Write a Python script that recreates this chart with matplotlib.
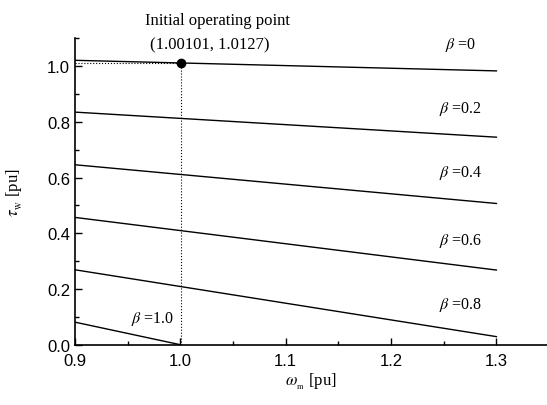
import matplotlib
matplotlib.use('Agg')
import matplotlib.pyplot as plt
from matplotlib.ticker import MultipleLocator

# Torque-speed lines for each pitch angle beta (endpoints at 0.9 and 1.3 pu)
betas = ['0', '0.2', '0.4', '0.6', '0.8', '1.0']
omega_start = [0.9, 0.9, 0.9, 0.9, 0.9, 0.9]
omega_end = [1.3, 1.3, 1.3, 1.3, 1.3, 1.0]
tau_start = [1.021, 0.835, 0.646, 0.457, 0.269, 0.081]
tau_end = [0.983, 0.745, 0.507, 0.268, 0.029, 0.0]

# label positions for beta annotations
label_x = [1.266, 1.266, 1.266, 1.266, 1.266, 0.974]
label_y = [1.078, 0.848, 0.621, 0.376, 0.146, 0.095]

op_omega, op_tau = 1.00101, 1.0127

plt.rcParams['mathtext.fontset'] = 'stix'
serif = ['Liberation Serif', 'DejaVu Serif']

fig = plt.figure(figsize=(5.47, 4.06), dpi=100)
ax = fig.add_axes([0.137, 0.1485, 0.863, 0.7547])

for x0, x1, y0, y1 in zip(omega_start, omega_end, tau_start, tau_end):
    ax.plot([x0, x1], [y0, y1], color='black', linewidth=1.0)

for b, lx, ly in zip(betas, label_x, label_y):
    ax.text(lx, ly, r'$\beta$ =' + b, fontsize=11.5, family=serif,
            ha='center', va='center')

# operating point with guide lines
ax.plot([op_omega, op_omega], [0, op_tau], color='black', linestyle=':', linewidth=0.8)
ax.plot([0.9, op_omega], [op_tau, op_tau], color='black', linestyle=':', linewidth=0.8)
ax.plot(op_omega, op_tau, 'o', color='black', markersize=6, zorder=5)

ax.text(1.035, 1.167, 'Initial operating point', fontsize=12, family=serif,
        ha='center', va='center', clip_on=False)
ax.text(1.028, 1.078, '(%.5f, %.4f)' % (op_omega, op_tau), fontsize=12, family=serif,
        ha='center', va='center')

ax.set_xlim(0.9, 1.348)
ax.set_ylim(0.0, 1.1)
ax.spines['top'].set_visible(False)
ax.spines['right'].set_visible(False)
ax.spines['left'].set_linewidth(1.2)
ax.spines['bottom'].set_linewidth(1.2)

ax.set_xticks([0.9, 1.0, 1.1, 1.2, 1.3])
ax.set_yticks([0.0, 0.2, 0.4, 0.6, 0.8, 1.0])
ax.xaxis.set_minor_locator(MultipleLocator(0.05))
ax.yaxis.set_minor_locator(MultipleLocator(0.1))
ax.tick_params(which='both', direction='in', width=1.0)
ax.tick_params(which='major', length=5, labelsize=12)
ax.tick_params(axis='x', which='major', pad=6)
ax.tick_params(which='minor', length=3)
for lbl in ax.get_xticklabels() + ax.get_yticklabels():
    lbl.set_family(['Liberation Sans', 'DejaVu Sans'])

ax.set_xlabel(r'$\omega_{_{\rm m}}$ [pu]', fontsize=12, family=serif, labelpad=2)
ax.set_ylabel(r'$\tau_{_{\rm W}}$ [pu]', fontsize=12, family=serif, labelpad=16)

plt.savefig('out.png', dpi=100)
plt.close()
